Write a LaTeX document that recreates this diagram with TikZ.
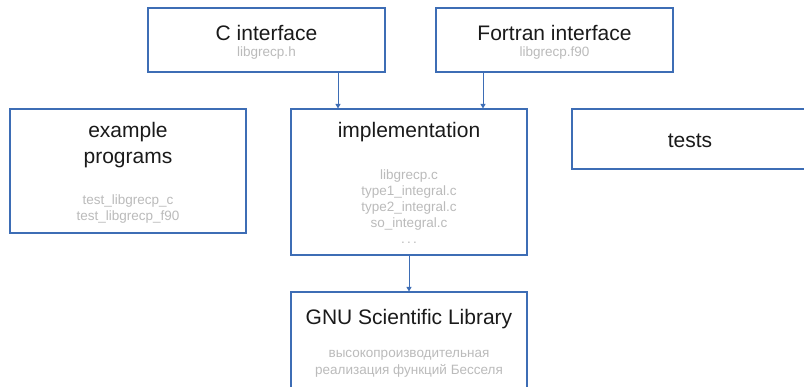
\documentclass[tikz,border=0pt]{standalone}
\usepackage{fontspec}
\setmainfont{Liberation Sans}
\usetikzlibrary{arrows.meta}
\definecolor{frameblue}{HTML}{3D6DB5}
\definecolor{filegray}{HTML}{BBBBBB}
\definecolor{titleink}{HTML}{1A1A1A}
\tikzset{
  box/.style={draw=frameblue, line width=1.1pt, fill=white, inner sep=0pt},
  title/.style={anchor=base, inner sep=0pt, text=titleink, font=\fontsize{21}{26}\selectfont},
  file/.style={anchor=base, inner sep=0pt, text=filegray, font=\fontsize{13.5}{16}\selectfont},
  arr/.style={draw=frameblue, line width=1pt, -{Triangle[length=4.5pt,width=5pt]}}
}
\begin{document}
\begin{tikzpicture}[x=1pt,y=-1pt]
\useasboundingbox (0,0) rectangle (804,386);
\begin{scope}
\clip (0,0) rectangle (804,386);
% boxes
\node[box, minimum width=237, minimum height=64]  (cif)   at (266.5,40) {};
\node[box, minimum width=237, minimum height=64]  (fif)   at (554.5,40) {};
\node[box, minimum width=236, minimum height=124] (ex)    at (128,171) {};
\node[box, minimum width=236, minimum height=146] (impl)  at (409,182) {};
\node[box, minimum width=236, minimum height=60]  (tests) at (690,139) {};
\node[box, minimum width=236, minimum height=124] (gsl)   at (409,354) {};
\end{scope}

% connectors
\coordinate (cx) at (338,0);
\coordinate (fx) at (483,0);
\draw[arr] (cif.south -| cx) -- (impl.north -| cx);
\draw[arr] (fif.south -| fx) -- (impl.north -| fx);
\draw[arr] (impl.south) -- (gsl.north);

% C interface
\node[title] (cift) at (266.5,40.5) {C interface};
\node[file]  (cifa) at (266.5,56) {libgrecp.h};
% Fortran interface
\node[title] (fift) at (554.5,40.5) {Fortran interface};
\node[file]  (fifa) at (554.5,56) {libgrecp.f90};
% example programs
\node[title] (ext1) at (128,137) {example};
\node[title] (ext2) at (128,163) {programs};
\node[file]  (exa)  at (128,204) {test\_libgrecp\_c};
\node[file]  (exb)  at (128,220) {test\_libgrecp\_f90};
% implementation
\node[title] (implt) at (409,137) {implementation};
\node[file]  (impla) at (409,179) {libgrecp.c};
\node[file]  (implb) at (409,195) {type1\_integral.c};
\node[file]  (implc) at (409,211) {type2\_integral.c};
\node[file]  (impld) at (409,227) {so\_integral.c};
\node[file]  (imple) at (409,243) {.\,.\,.};
% tests
\node[title] (testst) at (690,147) {tests};
% GNU Scientific Library
\node[title] (gslt) at (409,324) {GNU Scientific Library};
\node[file]  (gsla) at (409,357) {высокопроизводительная};
\node[file]  (gslb) at (409,374) {реализация функций Бесселя};
\end{tikzpicture}
\end{document}
